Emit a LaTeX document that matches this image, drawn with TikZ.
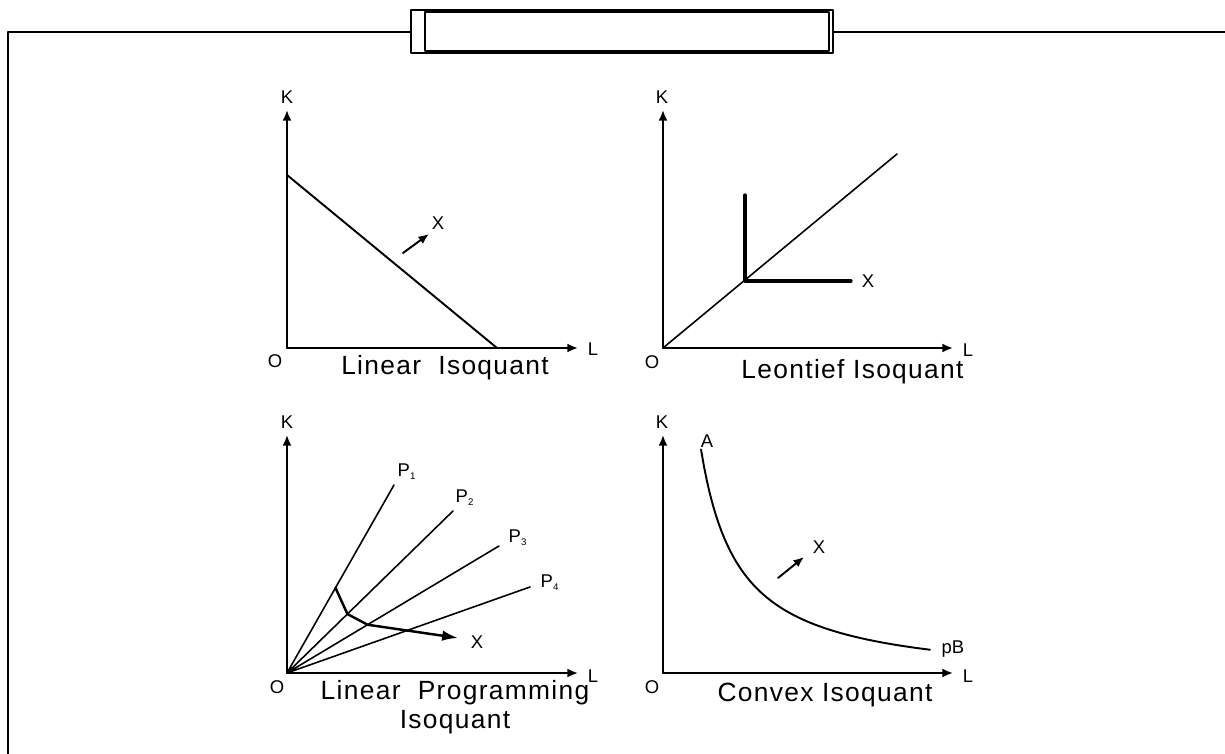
\documentclass[tikz,border=0pt]{standalone}
\usepackage{fontspec}
\setmainfont{Liberation Sans}
\usetikzlibrary{arrows.meta,calc}
\tikzset{
  every picture/.style={line join=round, line cap=round, >={Latex[length=6pt,width=5pt]}},
  frame/.style={line width=1.6pt},
  axis/.style={line width=1.1pt,->},
  curve/.style={line width=1.1pt},
  ray/.style={line width=0.9pt},
  lbl/.style={font=\fontsize{10.5}{12}\selectfont, inner sep=0pt},
  caption/.style={font=\fontsize{15}{16.5}\selectfont\addfontfeatures{LetterSpace=5}, inner sep=0pt, align=center},
}

\begin{document}
\begin{tikzpicture}
\useasboundingbox (0,0) rectangle (24.500,15.080);
\draw[frame] (0.160,0.000) -- (0.160,14.440) -- (24.500,14.440);
\draw[frame,fill=white] (8.220,14.020) rectangle (16.660,14.880);
\draw[line width=0.6pt] (8.500,14.060) rectangle (16.580,14.840);

\coordinate (O1) at (5.740,8.120);
\draw[axis] (O1) -- (5.740,12.880);
\draw[axis] (O1) -- (11.560,8.120);
\node[lbl] (k1) at (5.740,13.140) {K};
\node[lbl] (l1) at (11.860,8.100) {L};
\node[lbl] (o1) at (5.500,7.860) {O};
\draw[curve] (5.740,11.580) -- (9.940,8.120);
\draw[axis] (8.060,10.020) -- (8.580,10.400);
\node[lbl] (x1) at (8.760,10.620) {X};
\node[caption] (c1) at (8.900,7.720) {Linear \ Isoquant};

\coordinate (O2) at (13.260,8.120);
\draw[axis] (O2) -- (13.260,12.880);
\draw[axis] (O2) -- (19.060,8.120);
\node[lbl] (k2) at (13.240,13.140) {K};
\node[lbl] (l2) at (19.360,8.080) {L};
\node[lbl] (o2) at (13.040,7.840) {O};
\draw[ray] (O2) -- (17.940,12.000);
\draw[line width=1.8pt] (14.900,11.180) -- (14.900,9.460) -- (17.020,9.460);
\node[lbl] (x2) at (17.360,9.460) {X};
\node[caption] (c2) at (17.050,7.640) {Leontief Isoquant};

\coordinate (O3) at (5.740,1.620);
\draw[axis] (O3) -- (5.740,6.380);
\draw[axis] (O3) -- (11.560,1.620);
\node[lbl] (k3) at (5.740,6.640) {K};
\node[lbl] (l3) at (11.860,1.560) {L};
\node[lbl] (o3) at (5.540,1.340) {O};
\coordinate (p1) at (7.880,5.380);
\coordinate (p2) at (9.060,4.860);
\coordinate (p3) at (9.980,4.160);
\coordinate (p4) at (10.600,3.340);
\draw[ray] (O3) -- (p1) (O3) -- (p2) (O3) -- (p3) (O3) -- (p4);
\node[lbl] (pl1) at (8.140,5.640) {P\textsubscript{\fontsize{5.5}{6}\selectfont 1}};
\node[lbl] (pl2) at (9.300,5.120) {P\textsubscript{\fontsize{5.5}{6}\selectfont 2}};
\node[lbl] (pl3) at (10.360,4.320) {P\textsubscript{\fontsize{5.5}{6}\selectfont 3}};
\node[lbl] (pl4) at (11.000,3.420) {P\textsubscript{\fontsize{5.5}{6}\selectfont 4}};
\draw[curve,line width=1.4pt,-{Latex[length=9pt,width=6pt]}] ($(O3)!0.453!(p1)$) -- ($(O3)!0.364!(p2)$) -- ($(O3)!0.380!(p3)$) -- (9.160,2.320);
\node[lbl] (x3) at (9.540,2.240) {X};
\node[caption] (c3) at (9.100,0.940) {Linear \ Programming\\Isoquant};

\coordinate (O4) at (13.260,1.620);
\draw[axis] (O4) -- (13.260,6.380);
\draw[axis] (O4) -- (19.060,1.620);
\node[lbl] (k4) at (13.240,6.640) {K};
\node[lbl] (l4) at (19.360,1.560) {L};
\node[lbl] (o4) at (13.040,1.340) {O};
\draw[curve,domain=0.76:5.34,samples=80,variable=\t] plot({13.260+\t},{1.620+3.55/\t-0.2});
\node[lbl] (a4) at (14.140,6.260) {A};
\node[lbl] (b4) at (19.060,2.100) {pB};
\draw[axis] (15.560,3.520) -- (16.080,3.940);
\node[lbl] (x4) at (16.380,4.140) {X};
\node[caption] (c4) at (16.500,1.180) {Convex Isoquant};
\end{tikzpicture}
\end{document}
